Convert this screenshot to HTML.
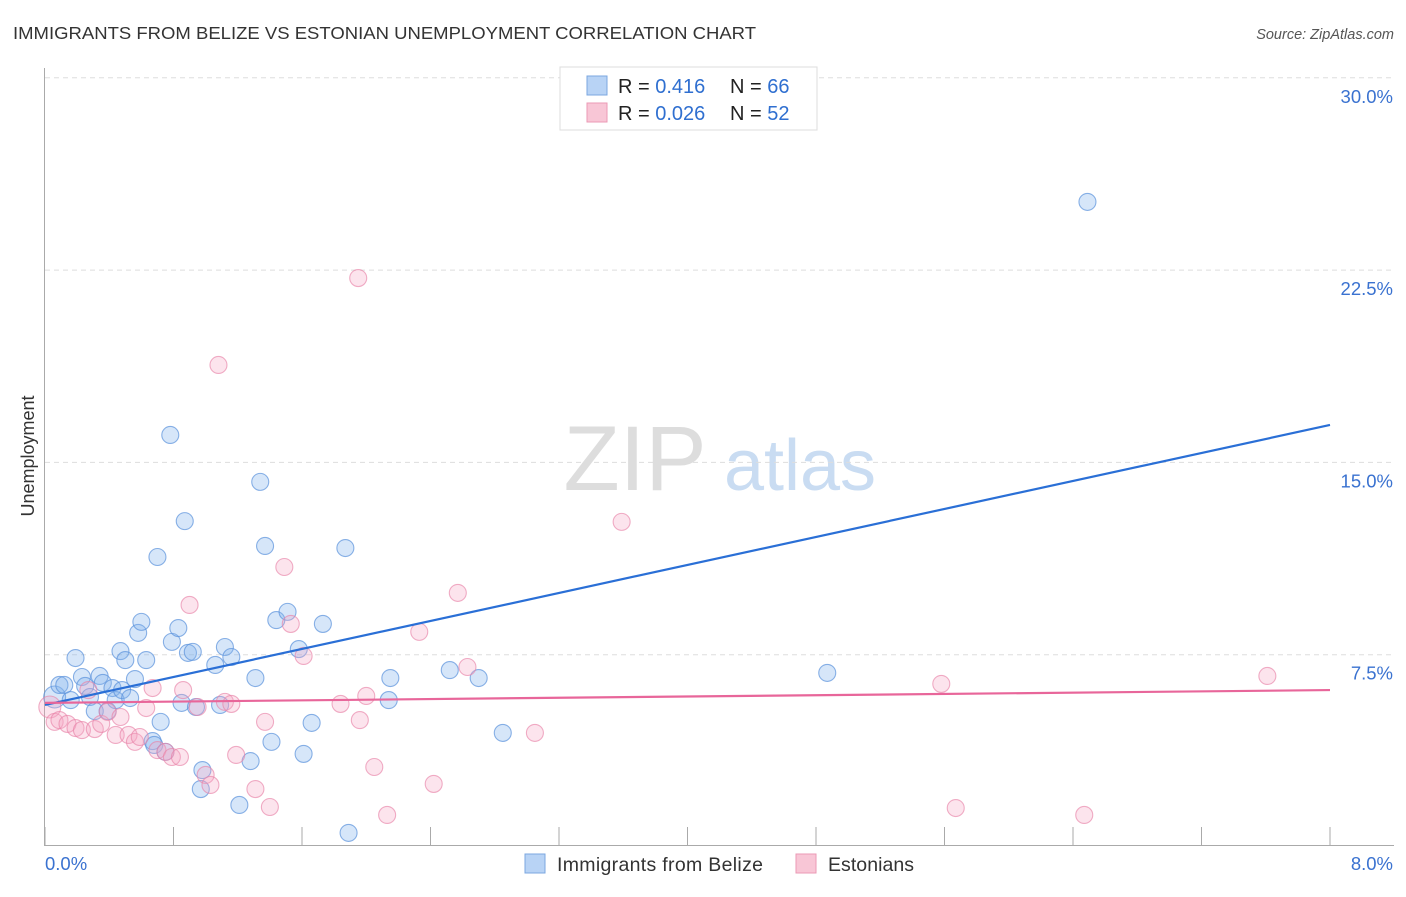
<!DOCTYPE html>
<html><head><meta charset="utf-8"><style>
body{margin:0;background:#fff;font-family:"Liberation Sans",sans-serif}
svg text{font-family:"Liberation Sans",sans-serif}
</style></head><body>
<svg width="1406" height="892" viewBox="0 0 1406 892" xmlns="http://www.w3.org/2000/svg">
<text x="13" y="39" font-size="17.5" fill="#333" textLength="743" lengthAdjust="spacingAndGlyphs">IMMIGRANTS FROM BELIZE VS ESTONIAN UNEMPLOYMENT CORRELATION CHART</text>
<text x="1394" y="39" font-size="14.5" fill="#555" font-style="italic" text-anchor="end">Source: ZipAtlas.com</text>
<g id="wm">
<text x="635" y="490" font-size="92" fill="#ddd" font-family="Liberation Serif" text-anchor="middle">ZIP</text>
<text x="800" y="490" font-size="72" fill="#c9dcf2" text-anchor="middle">atlas</text>
</g>
<g id="grid"></g>
<g id="axes"></g>
<g id="pts"></g>
<g id="lines"></g>
<text transform="translate(34,456) rotate(-90)" font-size="18" fill="#333" text-anchor="middle">Unemployment</text>
<g>
<rect x="560" y="67" width="257" height="63" fill="#fff" stroke="#ddd"/>
<rect x="587" y="76" width="20" height="19" fill="#b8d3f5" stroke="#7ba7e0"/>
<rect x="587" y="103" width="20" height="19" fill="#f8c6d6" stroke="#eb9ab5"/>
<text x="618" y="93" font-size="20" fill="#222">R = <tspan fill="#2f6fd0"> 0.416</tspan></text>
<text x="730" y="93" font-size="20" fill="#222">N = <tspan fill="#2f6fd0">66</tspan></text>
<text x="618" y="120" font-size="20" fill="#222">R = <tspan fill="#2f6fd0">0.026</tspan></text>
<text x="730" y="120" font-size="20" fill="#222">N = <tspan fill="#2f6fd0">52</tspan></text>
</g>
<g>
<rect x="525" y="854" width="20" height="19" fill="#b8d3f5" stroke="#7ba7e0"/>
<text x="557" y="871" font-size="19.5" fill="#333" textLength="206">Immigrants from Belize</text>
<rect x="796" y="854" width="20" height="19" fill="#f8c6d6" stroke="#eb9ab5"/>
<text x="828" y="871" font-size="19.5" fill="#333" textLength="86">Estonians</text>
</g>
</svg>
<script>
const xTicks=[0,0.8,1.6,2.4,3.2,4.0,4.8,5.6,6.4,7.2,8.0];
const yTicks=[7.5,15,22.5,30];
const yTickLabels=["7.5%","15.0%","22.5%","30.0%"];
const blueX=[0.06,0.09,0.12,0.19,0.16,0.23,0.25,0.28,0.31,0.34,0.36,0.39,0.42,0.44,0.47,0.48,0.50,0.53,0.56,0.58,0.60,0.63,0.67,0.68,0.70,0.72,0.75,0.78,0.79,0.83,0.85,0.87,0.89,0.92,0.94,0.97,0.98,1.06,1.09,1.12,1.16,1.21,1.28,1.31,1.34,1.37,1.41,1.44,1.51,1.58,1.61,1.66,1.73,1.87,1.89,2.14,2.15,2.52,2.70,2.85,4.87,6.49];
const blueY=[5.85,6.32,6.32,7.37,5.73,6.63,6.28,5.85,5.30,6.67,6.40,5.30,6.20,5.73,7.64,6.12,7.29,5.81,6.55,8.35,8.78,7.29,4.13,3.98,11.31,4.88,3.71,16.07,8.00,8.54,5.62,12.71,7.57,7.61,5.46,2.26,3.00,7.10,5.54,7.80,7.41,1.64,3.35,6.59,14.24,11.74,4.10,8.85,9.17,7.72,3.63,4.84,8.70,11.66,0.55,5.73,6.59,6.90,6.59,4.45,6.79,25.16];
const pinkX=[0.03,0.06,0.09,0.14,0.19,0.23,0.27,0.31,0.35,0.39,0.44,0.47,0.52,0.56,0.59,0.63,0.67,0.70,0.75,0.79,0.84,0.86,0.90,0.95,1.00,1.03,1.08,1.12,1.16,1.19,1.31,1.37,1.40,1.49,1.53,1.61,1.84,1.95,1.96,2.00,2.05,2.13,2.33,2.42,2.57,2.63,3.05,3.59,5.58,5.67,6.47,7.61];
const pinkY=[5.46,4.88,4.95,4.80,4.64,4.56,6.12,4.60,4.80,5.27,4.37,5.07,4.37,4.10,4.29,5.42,6.20,3.78,3.71,3.51,3.51,6.12,9.44,5.46,2.81,2.42,18.80,5.66,5.58,3.59,2.26,4.88,1.56,10.92,8.70,7.45,5.58,22.19,4.95,5.89,3.12,1.25,8.39,2.46,9.91,7.02,4.45,12.68,6.36,1.52,1.25,6.67];
const blueTrend=[5.54,16.46];
const pinkTrend=[5.62,6.12];
const NS="http://www.w3.org/2000/svg";
const X=v=>45+v/8*1285, Y=v=>847-v*25.64;
function mk(tag,attrs,parent){const e=document.createElementNS(NS,tag);for(const k in attrs)e.setAttribute(k,attrs[k]);parent.appendChild(e);return e;}
const grid=document.getElementById('grid'),axes=document.getElementById('axes'),pts=document.getElementById('pts'),lines=document.getElementById('lines');
yTicks.forEach((t,i)=>{
 const l=mk('line',{x1:45,x2:1395,y1:Y(t),y2:Y(t),stroke:'#ddd','stroke-dasharray':'5,4'},grid);
 
 
 const tx=mk('text',{x:1393,y:Y(t)+25,'font-size':18.5,fill:'#3a72d0','text-anchor':'end'},grid);
 tx.textContent=yTickLabels[i];
 
 
});
const la=mk('line',{x1:44.5,x2:44.5,y1:68,y2:845,stroke:'#aaa'},axes);


const ba=mk('line',{x1:44,x2:1394,y1:845.5,y2:845.5,stroke:'#aaa'},axes);


xTicks.forEach(t=>{
 const l=mk('line',{x1:X(t),x2:X(t),y1:827,y2:845,stroke:'#aaa'},axes);
 
 
});
const x0=mk('text',{x:45,y:870,'font-size':18.5,fill:'#3a72d0'},axes);x0.textContent='0.0%';


const x1=mk('text',{x:1393,y:870,'font-size':18.5,fill:'#3a72d0','text-anchor':'end'},axes);x1.textContent='8.0%';


function dots(xs,ys,fill,stroke,name){xs.forEach((x,i)=>{
 const c=mk('circle',{cx:X(x),cy:Y(ys[i]),r:(i===0?11:8.5),fill:fill,stroke:stroke,'stroke-width':1.1},pts);
 
 
});}
dots(blueX,blueY,'rgba(130,178,238,0.33)','rgba(90,145,220,0.7)','belize-point');
dots(pinkX,pinkY,'rgba(246,165,195,0.3)','rgba(232,130,168,0.65)','estonians-point');
const bl=mk('line',{x1:X(0),x2:X(8),y1:Y(blueTrend[0]),y2:Y(blueTrend[1]),stroke:'#2a6fd6','stroke-width':2.2},lines);


const pl=mk('line',{x1:X(0),x2:X(8),y1:Y(pinkTrend[0]),y2:Y(pinkTrend[1]),stroke:'#e8669a','stroke-width':2.2},lines);


</script>
</body></html>
